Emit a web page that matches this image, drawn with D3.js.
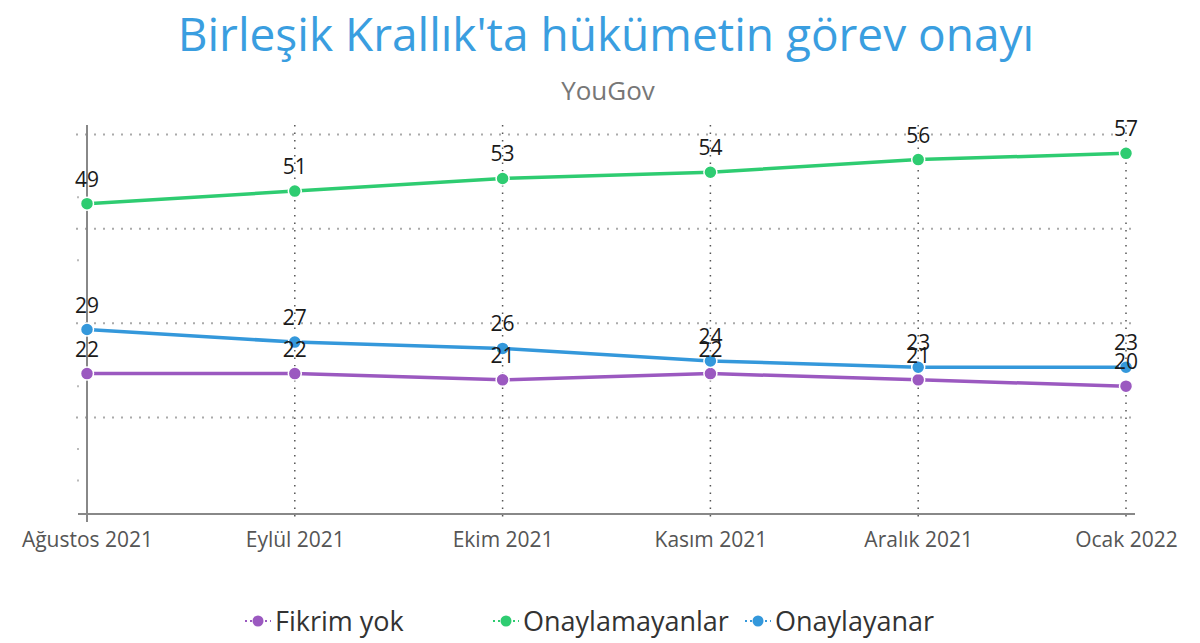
<!DOCTYPE html>
<html>
<head>
<meta charset="utf-8">
<script src="https://cdn.jsdelivr.net/npm/d3@7"></script>
<style>
  body { margin: 0; background: #fff; }
  svg { font-family: "Open Sans", "Noto Sans", sans-serif; }
</style>
</head>
<body>
<svg id="chart"></svg>
<script>
// data
const months = ['Ağustos 2021', 'Eylül 2021', 'Ekim 2021', 'Kasım 2021', 'Aralık 2021', 'Ocak 2022'];
const fikrimYok = [22, 22, 21, 22, 21, 20];
const onaylamayanlar = [49, 51, 53, 54, 56, 57];
const onaylayanar = [29, 27, 26, 24, 23, 23];
const seriesNames = ['Fikrim yok', 'Onaylamayanlar', 'Onaylayanar'];
const gridValues = [15, 30, 45, 60];
const minorValues = [5, 10, 20, 40, 50];

const colors = ['#9b59c0', '#2ecc71', '#3498db'];

const width = 1200, height = 643;
const margin = {top: 125, right: 74, bottom: 131, left: 87};

const svg = d3.select('#chart')
    .attr('width', width)
    .attr('height', height);

const x = d3.scalePoint()
    .domain(months)
    .range([margin.left, width - margin.right]);

const y = d3.scaleLinear()
    .domain([0, 61.5])
    .range([height - margin.bottom, margin.top]);

// title
svg.append('text')
    .attr('x', 606).attr('y', 51)
    .attr('text-anchor', 'middle')
    .attr('fill', '#3a9ee0')
    .attr('font-size', 46)
    .text("Birleşik Krallık'ta hükümetin görev onayı");

svg.append('text')
    .attr('x', 608).attr('y', 100)
    .attr('text-anchor', 'middle')
    .attr('fill', '#777')
    .attr('font-size', 26)
    .text('YouGov');

// horizontal grid
svg.append('g')
  .selectAll('line')
  .data(gridValues)
  .join('line')
    .attr('x1', 76).attr('x2', width - margin.right + 10)
    .attr('y1', d => y(d)).attr('y2', d => y(d))
    .attr('stroke', '#aaa')
    .attr('stroke-width', 2)
    .attr('stroke-dasharray', '2,7');

// small left ticks
svg.append('g')
  .selectAll('line')
  .data(minorValues)
  .join('line')
    .attr('x1', 77).attr('x2', 79)
    .attr('y1', d => y(d)).attr('y2', d => y(d))
    .attr('stroke', '#bbb')
    .attr('stroke-width', 2);

// vertical grid
svg.append('g')
  .selectAll('line')
  .data(months.slice(1))
  .join('line')
    .attr('x1', d => x(d)).attr('x2', d => x(d))
    .attr('y1', margin.top).attr('y2', height - margin.bottom + 10)
    .attr('stroke', '#555')
    .attr('stroke-width', 1.5)
    .attr('stroke-dasharray', '1.5,6');

// axes
const xAxisG = svg.append('g')
    .attr('transform', `translate(0,${height - margin.bottom + 2})`)
    .call(d3.axisBottom(x).tickSize(0).tickPadding(18));
xAxisG.select('.domain').remove();
xAxisG.selectAll('text')
    .attr('font-size', 21)
    .attr('fill', '#555')
    .attr('font-family', '"Open Sans", sans-serif');

svg.append('line')
    .attr('x1', 78).attr('x2', width - margin.right + 9)
    .attr('y1', height - margin.bottom + 2).attr('y2', height - margin.bottom + 2)
    .attr('stroke', '#888').attr('stroke-width', 2);

svg.append('line')
    .attr('x1', margin.left).attr('x2', margin.left)
    .attr('y1', margin.top).attr('y2', height - margin.bottom + 10)
    .attr('stroke', '#888').attr('stroke-width', 2);

// lines
const allSeries = [fikrimYok, onaylamayanlar, onaylayanar];
const line = d3.line()
    .x((d, i) => x(months[i]))
    .y(d => y(d));

allSeries.forEach((vals, s) => {
  svg.append('path')
      .datum(vals)
      .attr('fill', 'none')
      .attr('stroke', colors[s])
      .attr('stroke-width', 3.5)
      .attr('stroke-linejoin', 'round')
      .attr('d', line);
  svg.append('g')
    .selectAll('circle')
    .data(vals)
    .join('circle')
      .attr('cx', (d, i) => x(months[i]))
      .attr('cy', d => y(d))
      .attr('r', 6.5)
      .attr('fill', colors[s])
      .attr('stroke', '#fff')
      .attr('stroke-width', 1.5);
});

// value labels (they overlap where the series are close, as in the original)
allSeries.forEach((vals, s) => {
  svg.append('g')
    .selectAll('text')
    .data(vals)
    .join('text')
      .attr('x', (d, i) => x(months[i]))
      .attr('y', d => y(d) - 17)
      .attr('text-anchor', 'middle')
      .attr('font-size', 21)
      .attr('fill', '#1a1a1a')
      .text(d => d);
});

// legend
const legendX = [245, 493, 745];
const legend = svg.append('g');
seriesNames.forEach((name, i) => {
  const g = legend.append('g').attr('transform', `translate(${legendX[i]},621)`);
  g.append('line')
      .attr('x1', 0).attr('x2', 26)
      .attr('stroke', colors[i])
      .attr('stroke-width', 2)
      .attr('stroke-dasharray', '2,3');
  g.append('circle')
      .attr('cx', 13).attr('r', 5.5)
      .attr('fill', colors[i]);
  g.append('text')
      .attr('x', 30).attr('y', 10)
      .attr('font-size', 27)
      .attr('fill', '#333')
      .text(name);
});
</script>
</body>
</html>
